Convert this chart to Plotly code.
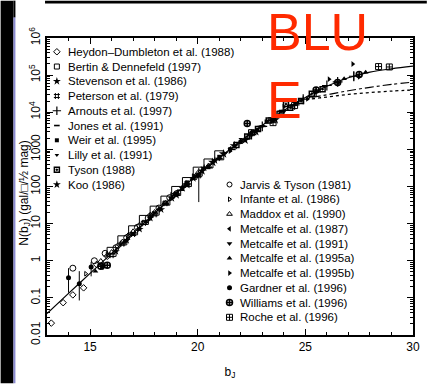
import numpy as np
import plotly.graph_objects as go

# ---------------- data (b_J magnitude, log10 N) ----------------
curve_b = [13, 14, 15, 16, 17, 18, 19, 20, 21, 22, 23, 24, 25, 26, 27, 28, 29, 30]
curve_logN = [-1.42, -0.88, -0.34, 0.20, 0.74, 1.28, 1.81, 2.33, 2.78, 3.22, 3.65, 4.05,
              4.40, 4.70, 4.93, 5.08, 5.17, 5.24]

model_b = [24.5, 25, 26, 27, 28, 29, 30]
model_dashdot_logN = [4.25, 4.36, 4.47, 4.58, 4.67, 4.75, 4.81]
model_dotted_logN = [4.25, 4.33, 4.41, 4.48, 4.53, 4.57, 4.60]

heydon_b = [13.2, 13.75, 14.2, 14.7, 15.3, 15.8, 16.3, 16.8, 17.3, 17.8]
heydon_logN = [-1.68, -1.13, -0.92, -0.73, -0.10, 0.12, 0.40, 0.68, 0.95, 1.22]

bertin_b = [16.0, 16.5, 17.0, 17.5, 18.0, 18.5, 19.0, 19.5, 20.0, 20.5, 21.0]
bertin_logN = [0.24, 0.55, 0.82, 1.10, 1.35, 1.62, 1.88, 2.12, 2.40, 2.62, 2.84]

stevenson_b = [16.2, 16.7, 17.3, 17.8, 18.3, 18.8, 19.3, 19.8, 20.3, 20.8]
stevenson_logN = [0.25, 0.55, 0.85, 1.15, 1.38, 1.68, 1.95, 2.22, 2.50, 2.70]

peterson_b = [16.0, 16.5, 17.0, 17.5, 18.0, 18.5, 19.0, 19.5, 20.05]
peterson_logN = [0.15, 0.46, 0.72, 1.02, 1.25, 1.55, 1.80, 2.08, 2.30]
peterson_err_up = [0, 0, 0, 0, 0, 0, 0, 0, 0.20]
peterson_err_dn = [0, 0, 0, 0, 0, 0, 0, 0, 0.72]

arnouts_b = [22.5, 23.0, 23.5, 24.0, 24.5, 24.9, 25.5, 26.0, 26.5, 27.25]
arnouts_logN = [3.40, 3.62, 3.85, 4.05, 4.20, 4.35, 4.55, 4.72, 4.82, 4.97]
arnouts_err_up = [0, 0, 0, 0, 0, 0.08, 0, 0, 0, 0.12]
arnouts_err_dn = [0, 0, 0, 0, 0, 0.08, 0, 0, 0, 0.12]

jones_b = [18.5, 19.2, 19.8, 20.4, 21.0, 21.6, 22.3, 23.0]
jones_logN = [1.55, 1.90, 2.20, 2.50, 2.75, 3.00, 3.30, 3.62]

weir_b = [19.5, 20.0, 20.5, 21.0, 21.5, 22.0, 22.5, 23.2]
weir_logN = [2.10, 2.30, 2.52, 2.80, 3.00, 3.20, 3.45, 3.75]

lilly_b = [21.3, 22.0, 22.8, 23.4, 24.0, 24.6, 25.2, 23.8]
lilly_logN = [2.90, 3.28, 3.55, 3.78, 4.05, 4.25, 4.42, 4.02]

tyson_b = [21.8, 22.3, 22.8, 23.3, 23.8, 24.3, 24.8, 25.3, 25.8, 24.1]
tyson_logN = [3.12, 3.35, 3.55, 3.78, 3.95, 4.12, 4.30, 4.50, 4.62, 4.22]

koo_b = [19.0, 19.5, 20.2, 20.7, 21.2, 21.7, 22.2, 22.7, 23.6]
koo_logN = [1.78, 2.05, 2.42, 2.65, 2.88, 3.10, 3.25, 3.48, 3.80]

jarvis_b = [14.2, 15.2, 15.7, 16.2, 16.7, 17.2, 17.7, 18.2, 18.7]
jarvis_logN = [-0.20, 0.00, 0.20, 0.35, 0.62, 0.90, 1.15, 1.42, 1.70]

infante_b = [14.8, 15.8, 16.8, 17.8, 18.8, 19.8]
infante_logN = [-0.35, 0.18, 0.68, 1.22, 1.78, 2.28]

maddox_b = [15.5, 16.0, 16.5, 17.0, 17.5, 18.0, 18.5, 19.0, 19.5, 20.0, 20.5]
maddox_logN = [-0.02, 0.22, 0.50, 0.78, 1.02, 1.30, 1.55, 1.82, 2.08, 2.35, 2.55]

metcalfe87_b = [19.5, 20.5, 21.5, 22.5, 23.5]
metcalfe87_logN = [2.05, 2.55, 3.02, 3.42, 3.78]

metcalfe91_b = [18.0, 19.0, 20.0, 21.0, 22.0, 23.0, 24.0]
metcalfe91_logN = [1.30, 1.78, 2.28, 2.75, 3.20, 3.62, 4.02]

metcalfe95a_b = [15.25, 16.6, 17.0, 17.6, 18.2, 18.8, 19.3, 26.8, 27.8]
metcalfe95a_logN = [-0.28, 0.52, 0.72, 1.05, 1.40, 1.70, 2.00, 4.90, 5.08]

metcalfe95b_b = [21.5, 22.5, 23.5, 24.5, 25.1, 25.5, 26.1, 26.5, 27.2, 27.5, 24.0]
metcalfe95b_logN = [2.95, 3.40, 3.80, 4.22, 4.36, 4.55, 4.89, 4.78, 5.30, 4.95, 4.15]

gardner_b = [14.0, 14.5, 15.05, 15.6]
gardner_logN = [-0.46, -0.62, -0.17, -0.15]
gardner_err_up = [0.26, 0.34, 0.14, 0.10]
gardner_err_dn = [0.40, 0.45, 0.25, 0.10]

williams_b = [15.5, 15.8, 22.3, 25.5, 26.5, 27.5]
williams_logN = [-0.15, -0.12, 3.70, 4.60, 4.80, 5.02]

roche_b = [22.5, 23.5, 24.5, 28.4, 28.9]
roche_logN = [3.45, 3.72, 4.18, 5.23, 5.22]

left_labels = ["Heydon–Dumbleton et al. (1988)", "Bertin & Dennefeld (1997)",
               "Stevenson et al. (1986)", "Peterson et al. (1979)", "Arnouts et al. (1997)",
               "Jones et al. (1991)", "Weir et al. (1995)", "Lilly et al. (1991)",
               "Tyson (1988)", "Koo (1986)"]
right_labels = ["Jarvis & Tyson (1981)", "Infante et al. (1986)", "Maddox et al. (1990)",
                "Metcalfe et al. (1987)", "Metcalfe et al. (1991)", "Metcalfe et al. (1995a)",
                "Metcalfe et al. (1995b)", "Gardner et al. (1996)", "Williams et al. (1996)",
                "Roche et al. (1996)"]

y_tickvals = [0.01, 0.1, 1, 10, 100, 1000, 1e4, 1e5, 1e6]
y_ticktext = ["0.01", "0.1", "1", "10", "100", "1000", "10<sup>4</sup>", "10<sup>5</sup>", "10<sup>6</sup>"]
x_tickvals = [15, 20, 25, 30]

# ---------------- styles ----------------
# (b, logN, err_up, err_dn, symbol, size, line width, legend size)
surveys_left = [
    (heydon_b, heydon_logN, None, None, "diamond-open", 5, 1, 5),
    (bertin_b, bertin_logN, None, None, "square-open", 9, 1, 5),
    (stevenson_b, stevenson_logN, None, None, "star", 6, 0, 6),
    (peterson_b, peterson_logN, peterson_err_up, peterson_err_dn, "hash-open", 6, 1, 6),
    (arnouts_b, arnouts_logN, arnouts_err_up, arnouts_err_dn, "cross-thin-open", 7, 1.2, 6),
    (jones_b, jones_logN, None, None, "line-ew-open", 5, 1.6, 4),
    (weir_b, weir_logN, None, None, "square", 4, 0, 4),
    (lilly_b, lilly_logN, None, None, "triangle-down", 4, 0, 4),
    (tyson_b, tyson_logN, None, None, "square-open-dot", 5, 1.5, 5),
    (koo_b, koo_logN, None, None, "star", 7, 0, 6),
]
surveys_right = [
    (jarvis_b, jarvis_logN, None, None, "circle-open", 6, 1, 5),
    (infante_b, infante_logN, None, None, "triangle-right-open", 4, 1, 4),
    (maddox_b, maddox_logN, None, None, "triangle-up-open", 6, 1, 5),
    (metcalfe87_b, metcalfe87_logN, None, None, "triangle-left", 5, 0, 5),
    (metcalfe91_b, metcalfe91_logN, None, None, "triangle-down", 5, 0, 5),
    (metcalfe95a_b, metcalfe95a_logN, None, None, "triangle-up", 5, 0, 5),
    (metcalfe95b_b, metcalfe95b_logN, None, None, "triangle-right", 5, 0, 5),
    (gardner_b, gardner_logN, gardner_err_up, gardner_err_dn, "circle", 5, 0, 5),
    (williams_b, williams_logN, None, None, "circle-cross-open", 6, 1.5, 6),
    (roche_b, roche_logN, None, None, "square-cross-open", 6, 1, 6),
]

# layout geometry (pixels)
W, H = 432, 389
PL, PR, PT, PB = 47, 418, 38, 340
def pxx(px):
    return (px - PL) / (PR - PL)
def pxy(py):
    return (PB - py) / (PB - PT)

FONT = "Liberation Sans, Arial, sans-serif"

fig = go.Figure()

def lin(v):
    return 10 ** np.asarray(v, dtype=float)

fig.add_trace(go.Scatter(x=curve_b, y=lin(curve_logN), mode="lines",
                         line=dict(color="black", width=1.2, shape="spline"), showlegend=False))
fig.add_trace(go.Scatter(x=model_b, y=lin(model_dashdot_logN), mode="lines",
                         line=dict(color="black", width=1.1, dash="dashdot", shape="spline"), showlegend=False))
fig.add_trace(go.Scatter(x=model_b, y=lin(model_dotted_logN), mode="lines",
                         line=dict(color="black", width=1.3, dash="dot", shape="spline"), showlegend=False))

for s in surveys_left + surveys_right:
    b, lg, eu, ed, sym, size, lw, _ = s
    yv = lin(lg)
    err = None
    if eu is not None:
        up = lin(np.asarray(lg) + np.asarray(eu)) - yv
        dn = yv - lin(np.asarray(lg) - np.asarray(ed))
        err = dict(type="data", array=up, arrayminus=dn, symmetric=False,
                   color="black", thickness=1, width=0)
    fig.add_trace(go.Scatter(x=b, y=yv, mode="markers", error_y=err,
                             marker=dict(symbol=sym, size=size, color="black",
                                         line=dict(color="black", width=lw)),
                             showlegend=False, cliponaxis=False))

# custom compact legends
annotations = []
LEFT_SYM_X, LEFT_TXT_X, LEFT_Y0 = 57, 66, 52
RIGHT_SYM_X, RIGHT_TXT_X, RIGHT_Y0 = 232, 241, 187
STEP = 15
for col, (surveys, labels, sx, tx, y0) in enumerate([
        (surveys_left, left_labels, LEFT_SYM_X, LEFT_TXT_X, LEFT_Y0),
        (surveys_right, right_labels, RIGHT_SYM_X, RIGHT_TXT_X, RIGHT_Y0)]):
    for i, (s, lab) in enumerate(zip(surveys, labels)):
        sym, lw, lsize = s[4], s[6], s[7]
        yy = pxy(y0 + STEP * i)
        fig.add_trace(go.Scatter(x=[pxx(sx)], y=[yy], xaxis="x2", yaxis="y2", mode="markers",
                                 marker=dict(symbol=sym, size=lsize, color="black",
                                             line=dict(color="black", width=lw)),
                                 showlegend=False, cliponaxis=False))
        annotations.append(dict(x=pxx(tx), y=yy, xref="paper", yref="paper", text=lab,
                                showarrow=False, xanchor="left", yanchor="middle",
                                font=dict(family=FONT, size=11.5, color="black")))

annotations.append(dict(x=pxx(268), y=pxy(0), xref="paper", yref="paper", text="BLU<br>E",
                        showarrow=False, xanchor="left", yanchor="top", align="left",
                        font=dict(family=FONT, size=52, color="#ff2a00")))

# y-axis title placed as a rotated label left of the tick labels
annotations.append(dict(x=pxx(25), y=pxy(196), xref="paper", yref="paper",
                        text="N(b<sub>J</sub>) (gal/□/½ mag)", textangle=-90, showarrow=False,
                        xanchor="center", yanchor="middle",
                        font=dict(family=FONT, size=12, color="black")))

shapes = [
    dict(type="rect", xref="paper", yref="paper", x0=pxx(0), x1=pxx(13), y0=pxy(H), y1=pxy(0),
         fillcolor="black", line=dict(width=0), layer="above"),
    dict(type="rect", xref="paper", yref="paper", x0=pxx(13), x1=pxx(15), y0=pxy(H), y1=pxy(17),
         fillcolor="#8a8ad0", line=dict(width=0), layer="above"),
    dict(type="rect", xref="paper", yref="paper", x0=pxx(13), x1=pxx(15), y0=pxy(17), y1=pxy(0),
         fillcolor="black", line=dict(width=0), layer="above"),
    dict(type="rect", xref="paper", yref="paper", x0=pxx(45), x1=pxx(W), y0=pxy(3), y1=pxy(0),
         fillcolor="black", line=dict(width=0), layer="above"),
]

axis_common = dict(showline=True, linecolor="black", linewidth=1.5, mirror="ticks",
                   ticks="inside", ticklen=6, tickwidth=1, tickcolor="black",
                   showgrid=False, zeroline=False,
                   tickfont=dict(family=FONT, size=12, color="black"))

fig.update_layout(
    width=W, height=H,
    margin=dict(l=PL, r=W - PR, t=PT, b=H - PB),
    paper_bgcolor="white", plot_bgcolor="white",
    showlegend=False,
    xaxis=dict(range=[13, 30], tickmode="array", tickvals=x_tickvals,
               minor=dict(ticks="inside", ticklen=3, dtick=1, tickcolor="black", showgrid=False),
               title=dict(text="b<sub>J</sub>", font=dict(family=FONT, size=12, color="black"), standoff=14),
               **axis_common),
    yaxis=dict(type="log", range=[-2, 6], tickmode="array", tickvals=y_tickvals, ticktext=y_ticktext,
               tickangle=-90,
               minor=dict(ticks="inside", ticklen=3, dtick="D1", tickcolor="black", showgrid=False),
               **axis_common),
    xaxis2=dict(overlaying="x", range=[0, 1], visible=False),
    yaxis2=dict(overlaying="y", range=[0, 1], visible=False),
    annotations=annotations,
    shapes=shapes,
)

fig.write_html("out.html")
